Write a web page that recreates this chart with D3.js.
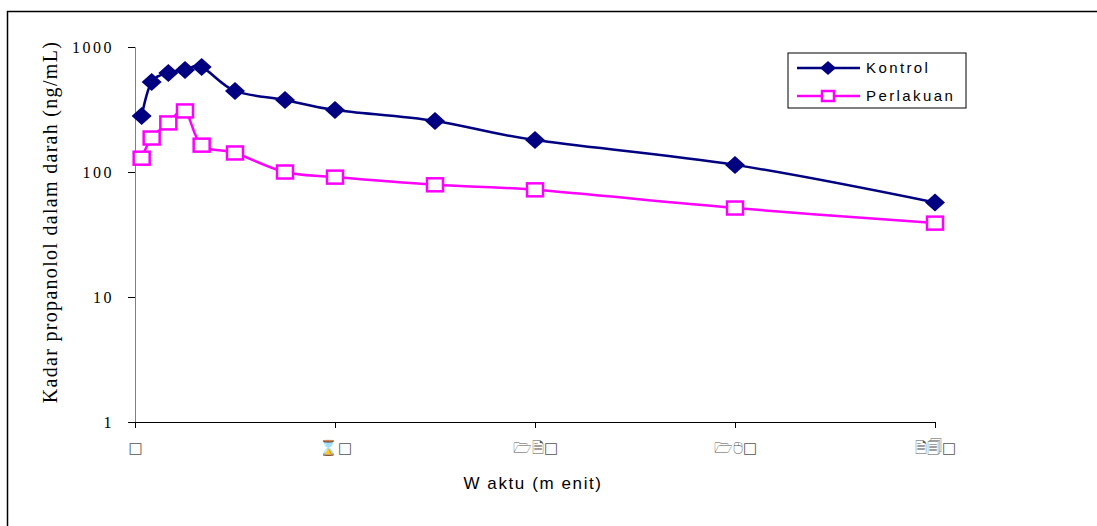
<!DOCTYPE html>
<html>
<head>
  <meta charset="utf-8">
  <title>Kadar propanolol</title>
  <script src="https://d3js.org/d3.v7.min.js"></script>
  <style>
    body { margin: 0; background: #fff; }
    .ytick text { font-family: "Liberation Serif", serif; font-size: 16px; letter-spacing: 2.5px; }
    .xtick text { font-family: "DejaVu Sans", sans-serif; font-size: 15px; }
  </style>
</head>
<body>
  <div id="chart"></div>

  <script>
    const times = [2, 5, 10, 15, 20, 30, 45, 60, 90, 120, 180, 240];
    const kontrol = [281, 525, 620, 655, 692, 445, 377, 313, 256, 180, 114, 57];
    const perlakuan = [129, 187, 247, 308, 164, 142, 100, 91, 79, 72, 51.5, 39];
    const xTicks = [0, 60, 120, 180, 240];
    const yTicks = [1, 10, 100, 1000];
    // tick labels came out in a symbol font: map each digit to a look-alike glyph
    const digitGlyph = { "0": "\u25A1", "1": "\uD83D\uDDC1", "2": "\uD83D\uDDCE", "4": "\uD83D\uDDD0", "6": "\u231B", "8": "\uD83D\uDDB0" };

    const W = 1097, H = 526;
    const margin = { top: 47, left: 135, right: 162, bottom: 104 };
    const width = W - margin.left - margin.right;
    const height = H - margin.top - margin.bottom;

    const svg = d3.select("#chart").append("svg")
      .attr("width", W)
      .attr("height", H);

    // outer frame
    svg.append("rect")
      .attr("x", 7.5).attr("y", 11.5)
      .attr("width", W + 10).attr("height", H + 10)
      .attr("fill", "none").attr("stroke", "#000").attr("stroke-width", 1.5);

    const g = svg.append("g")
      .attr("transform", `translate(${margin.left},${margin.top})`);

    const x = d3.scaleLinear().domain([0, 240]).range([0, width]);
    const y = d3.scaleLog().domain([1, 1000]).range([height, 0]);

    // axes
    const yAxis = g.append("g").attr("class", "ytick")
      .call(d3.axisLeft(y).tickValues(yTicks).tickFormat(d3.format("d")).tickSize(7).tickPadding(14));
    yAxis.select(".domain").attr("stroke", "#808080");
    yAxis.selectAll(".tick line").attr("stroke", "#000");

    const xAxis = g.append("g").attr("class", "xtick")
      .attr("transform", `translate(0,${height})`)
      .call(d3.axisBottom(x).tickValues(xTicks)
        .tickFormat(d => String(d).split("").map(c => digitGlyph[c] || c).join(""))
        .tickSize(6).tickPadding(14));
    xAxis.select(".domain").attr("stroke", "#000");
    xAxis.selectAll(".tick text").attr("fill", "#555");

    const line = d3.line()
      .x((d, i) => x(times[i]))
      .y(d => y(d))
      .curve(d3.curveCatmullRom.alpha(0));

    g.append("path").datum(kontrol)
      .attr("fill", "none").attr("stroke", "#000080").attr("stroke-width", 2.5)
      .attr("d", line);
    g.append("path").datum(perlakuan)
      .attr("fill", "none").attr("stroke", "#ff00ff").attr("stroke-width", 2.5)
      .attr("d", line);

    const diamond = "M0,-9L10,0L0,9L-10,0Z";

    g.selectAll(".dot-k").data(kontrol).enter()
      .append("path").attr("class", "dot-k")
      .attr("transform", (d, i) => `translate(${x(times[i])},${y(d)})`)
      .attr("d", diamond)
      .attr("fill", "#000080");

    g.selectAll(".dot-p").data(perlakuan).enter()
      .append("rect").attr("class", "dot-p")
      .attr("x", (d, i) => x(times[i]) - 8)
      .attr("y", d => y(d) - 6.5)
      .attr("width", 16).attr("height", 13)
      .attr("fill", "#fff").attr("stroke", "#ff00ff").attr("stroke-width", 2.5);

    // axis titles
    svg.append("text")
      .attr("transform", "translate(57,222) rotate(-90)")
      .attr("text-anchor", "middle")
      .style("font-family", "Liberation Serif, serif")
      .style("font-size", "20px")
      .style("letter-spacing", "1.3px")
      .text("Kadar propanolol dalam darah (ng/mL)");

    svg.append("text")
      .attr("x", 533).attr("y", 489)
      .attr("text-anchor", "middle")
      .style("font-family", "Liberation Sans, sans-serif")
      .style("font-size", "17px")
      .style("letter-spacing", "1.6px")
      .text("W aktu (m enit)");

    // legend
    const legend = svg.append("g").attr("transform", "translate(788,53)");
    legend.append("rect")
      .attr("width", 178).attr("height", 55)
      .attr("fill", "#fff").attr("stroke", "#000").attr("stroke-width", 1);

    const entries = [
      { name: "Kontrol", color: "#000080", mark: "d" },
      { name: "Perlakuan", color: "#ff00ff", mark: "s" }
    ];
    entries.forEach((e, i) => {
      const ly = 15 + i * 28;
      legend.append("line")
        .attr("x1", 9).attr("x2", 72).attr("y1", ly).attr("y2", ly)
        .attr("stroke", e.color).attr("stroke-width", 2.5);
      if (e.mark === "d") {
        legend.append("path").attr("d", "M0,-7L8,0L0,7L-8,0Z")
          .attr("transform", `translate(40,${ly})`).attr("fill", e.color);
      } else {
        legend.append("rect").attr("x", 34).attr("y", ly - 5)
          .attr("width", 12).attr("height", 10)
          .attr("fill", "#fff").attr("stroke", e.color).attr("stroke-width", 2.5);
      }
      legend.append("text")
        .attr("x", 78).attr("y", ly + 5)
        .style("font-family", "Liberation Sans, sans-serif")
        .style("font-size", "15px")
        .style("letter-spacing", "2.4px")
        .text(e.name);
    });
  </script>
</body>
</html>
